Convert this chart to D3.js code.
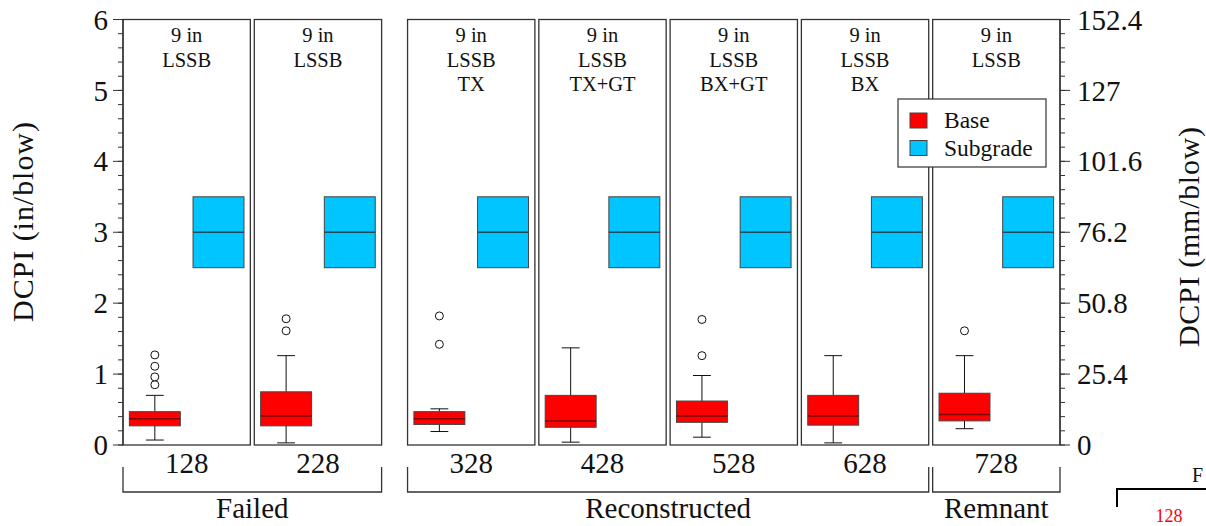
<!DOCTYPE html>
<html>
<head>
<meta charset="utf-8">
<script src="https://cdn.jsdelivr.net/npm/d3@7"></script>
<style>
  body { margin: 0; background: #fff; }
  svg { display: block; font-family: "Liberation Serif", "Times New Roman", Times, serif; }
</style>
</head>
<body>
<svg id="chart" width="1206" height="526"></svg>
<script>
// sections (panels) and their header lines
const sections = ['128', '228', '328', '428', '528', '628', '728'];
const headers = [
    ['9 in', 'LSSB'],
    ['9 in', 'LSSB'],
    ['9 in', 'LSSB', 'TX'],
    ['9 in', 'LSSB', 'TX+GT'],
    ['9 in', 'LSSB', 'BX+GT'],
    ['9 in', 'LSSB', 'BX'],
    ['9 in', 'LSSB']
];
const groupNames = ['Failed', 'Reconstructed', 'Remnant'];
const groupOf = [0, 0, 1, 1, 1, 1, 2];
const layers = ['Base', 'Subgrade'];

// Base layer box stats (in/blow)
const baseLow = [0.07, 0.03, 0.19, 0.04, 0.11, 0.03, 0.23];
const baseQ1 = [0.27, 0.27, 0.29, 0.25, 0.32, 0.28, 0.34];
const baseMed = [0.37, 0.41, 0.37, 0.34, 0.41, 0.41, 0.43];
const baseQ3 = [0.47, 0.75, 0.47, 0.70, 0.62, 0.70, 0.73];
const baseHigh = [0.70, 1.26, 0.51, 1.37, 0.98, 1.26, 1.26];
const baseOutliers = [
    [0.85, 0.96, 1.11, 1.27],
    [1.61, 1.78],
    [1.42, 1.82],
    [],
    [1.26, 1.77],
    [],
    [1.61]
];

// Subgrade layer box stats (in/blow)
const subQ1 = [2.5, 2.5, 2.5, 2.5, 2.5, 2.5, 2.5];
const subMed = [3.0, 3.0, 3.0, 3.0, 3.0, 3.0, 3.0];
const subQ3 = [3.5, 3.5, 3.5, 3.5, 3.5, 3.5, 3.5];

const leftTicks = [0, 1, 2, 3, 4, 5, 6];
const rightTicks = [0, 25.4, 50.8, 76.2, 101.6, 127, 152.4];

const colors = {Base: '#ff0000', Subgrade: '#00c5ff'};
const medianColors = {Base: '#7a0000', Subgrade: '#1b4d5c'};

const svg = d3.select('#chart');
const plotTop = 19.5, plotBottom = 445, plotLeft = 123, plotRight = 1060;
const groupGap = 22;

const y = d3.scaleLinear().domain([0, 6]).range([plotBottom, plotTop]);
const yMm = d3.scaleLinear().domain([0, 152.4]).range([plotBottom, plotTop]);

const xSec = d3.scaleBand()
    .domain(sections)
    .range([plotLeft, plotRight - groupGap])
    .paddingInner(0.03);
const secX = (s, i) => xSec(s) + (i >= 2 ? groupGap : 0);
const bw = xSec.bandwidth();

const xLayer = d3.scaleBand().domain(layers).range([0, bw]).paddingInner(0.2).paddingOuter(0.1);

// panels
const panel = svg.append('g').selectAll('g')
    .data(sections)
    .join('g')
    .attr('transform', (d, i) => `translate(${secX(d, i)},0)`);

panel.append('rect')
    .attr('x', 0).attr('y', plotTop)
    .attr('width', bw).attr('height', plotBottom - plotTop)
    .attr('fill', 'none').attr('stroke', '#333').attr('stroke-width', 1.3);

panel.each(function (d, i) {
    const t = d3.select(this).append('text')
        .attr('text-anchor', 'middle')
        .attr('font-size', 20.5)
        .attr('fill', '#111');
    headers[i].forEach((line, k) => {
        t.append('tspan').attr('x', bw / 2).attr('y', plotTop + 22.5 + k * 24.5).text(line);
    });
});

// box plots
function drawBox(parent, layer, q1, med, q3, lo, hi, outs) {
    const g = parent.append('g').attr('class', 'box-' + layer);
    const x0 = xLayer(layer), w = xLayer.bandwidth(), cx = x0 + w / 2, cap = w * 0.35;
    if (lo != null) {
        g.append('line').attr('x1', cx).attr('x2', cx).attr('y1', y(hi)).attr('y2', y(q3)).attr('stroke', '#111');
        g.append('line').attr('x1', cx).attr('x2', cx).attr('y1', y(q1)).attr('y2', y(lo)).attr('stroke', '#111');
        g.append('line').attr('x1', cx - cap / 2).attr('x2', cx + cap / 2).attr('y1', y(hi)).attr('y2', y(hi)).attr('stroke', '#111');
        g.append('line').attr('x1', cx - cap / 2).attr('x2', cx + cap / 2).attr('y1', y(lo)).attr('y2', y(lo)).attr('stroke', '#111');
    }
    g.append('rect')
        .attr('x', x0).attr('y', y(q3))
        .attr('width', w).attr('height', y(q1) - y(q3))
        .attr('fill', colors[layer]).attr('stroke', '#444').attr('stroke-width', 1);
    g.append('line')
        .attr('x1', x0).attr('x2', x0 + w)
        .attr('y1', y(med)).attr('y2', y(med))
        .attr('stroke', medianColors[layer]).attr('stroke-width', 1.5);
    g.selectAll('circle')
        .data(outs || [])
        .join('circle')
        .attr('cx', cx).attr('cy', v => y(v)).attr('r', 4)
        .attr('fill', '#fff').attr('stroke', '#111').attr('stroke-width', 1);
}

panel.each(function (d, i) {
    const g = d3.select(this);
    drawBox(g, 'Base', baseQ1[i], baseMed[i], baseQ3[i], baseLow[i], baseHigh[i], baseOutliers[i]);
    drawBox(g, 'Subgrade', subQ1[i], subMed[i], subQ3[i], null, null, []);
});

// left axis
const minorLeft = d3.range(0, 6.001, 0.2);
const leftAxis = svg.append('g').attr('transform', `translate(${plotLeft},0)`);
leftAxis.append('line').attr('x1', 0).attr('x2', 0).attr('y1', plotTop).attr('y2', plotBottom).attr('stroke', '#333').attr('stroke-width', 1.3);
leftAxis.selectAll('line.minor').data(minorLeft).join('line').attr('class', 'minor')
    .attr('x1', -5).attr('x2', 0).attr('y1', d => y(d)).attr('y2', d => y(d)).attr('stroke', '#333');
leftAxis.selectAll('line.major').data(leftTicks).join('line').attr('class', 'major')
    .attr('x1', -10).attr('x2', 0).attr('y1', d => y(d)).attr('y2', d => y(d)).attr('stroke', '#333');
leftAxis.selectAll('text').data(leftTicks).join('text')
    .attr('x', -15).attr('y', d => y(d)).attr('dy', '0.35em')
    .attr('text-anchor', 'end').attr('font-size', 29).attr('fill', '#111')
    .text(d => d);

// right axis
const minorRight = d3.range(0, 30.001).map(k => k * 5.08);
const rightAxis = svg.append('g').attr('transform', `translate(${plotRight},0)`);
rightAxis.append('line').attr('x1', 0).attr('x2', 0).attr('y1', plotTop).attr('y2', plotBottom).attr('stroke', '#333').attr('stroke-width', 1.3);
rightAxis.selectAll('line.minor').data(minorRight).join('line').attr('class', 'minor')
    .attr('x1', 0).attr('x2', 5).attr('y1', d => yMm(d)).attr('y2', d => yMm(d)).attr('stroke', '#333');
rightAxis.selectAll('line.major').data(rightTicks).join('line').attr('class', 'major')
    .attr('x1', 0).attr('x2', 10).attr('y1', d => yMm(d)).attr('y2', d => yMm(d)).attr('stroke', '#333');
rightAxis.selectAll('text').data(rightTicks).join('text')
    .attr('x', 17).attr('y', d => yMm(d)).attr('dy', '0.35em')
    .attr('font-size', 29).attr('fill', '#111')
    .text(d => +d.toFixed(1));

// axis titles
svg.append('text')
    .attr('transform', 'translate(33,222) rotate(-90)')
    .attr('text-anchor', 'middle').attr('font-size', 30).attr('fill', '#111')
    .attr('textLength', 200).attr('lengthAdjust', 'spacing')
    .text('DCPI (in/blow)');
svg.append('text')
    .attr('transform', 'translate(1199,237) rotate(-90)')
    .attr('text-anchor', 'middle').attr('font-size', 30).attr('fill', '#111')
    .attr('textLength', 220).attr('lengthAdjust', 'spacing')
    .text('DCPI (mm/blow)');

// section labels under panels
svg.append('g').selectAll('text')
    .data(sections)
    .join('text')
    .attr('x', (d, i) => secX(d, i) + bw / 2)
    .attr('y', 473)
    .attr('text-anchor', 'middle').attr('font-size', 29).attr('fill', '#111')
    .text(d => d);

// group brackets
const groupSpans = groupNames.map((name, gi) => {
    const idx = sections.map((s, i) => i).filter(i => groupOf[i] === gi);
    const x0 = secX(sections[idx[0]], idx[0]);
    const last = idx[idx.length - 1];
    const x1 = secX(sections[last], last) + bw;
    return {name, x0, x1};
});
const brackets = svg.append('g');
brackets.selectAll('path')
    .data(groupSpans)
    .join('path')
    .attr('d', d => `M${d.x0},467V492H${d.x1}V467`)
    .attr('fill', 'none').attr('stroke', '#333').attr('stroke-width', 1.3);
brackets.selectAll('text')
    .data(groupSpans)
    .join('text')
    .attr('x', d => (d.x0 + d.x1) / 2)
    .attr('y', 518)
    .attr('text-anchor', 'middle').attr('font-size', 29).attr('fill', '#111')
    .text(d => d.name);

// legend
const legend = svg.append('g').attr('transform', 'translate(898,99)');
legend.append('rect').attr('width', 148).attr('height', 68).attr('fill', '#fff').attr('stroke', '#333').attr('stroke-width', 1.2);
legend.selectAll('rect.sw').data(layers).join('rect').attr('class', 'sw')
    .attr('x', 12).attr('y', (d, i) => 14 + i * 27.5)
    .attr('width', 17).attr('height', 15)
    .attr('fill', d => colors[d]).attr('stroke', '#444');
legend.selectAll('text').data(layers).join('text')
    .attr('x', 46).attr('y', (d, i) => 29 + i * 28)
    .attr('font-size', 23.5).attr('fill', '#111')
    .text(d => d);

// clipped piece of the neighbouring figure
svg.append('path').attr('d', 'M1117,507V489H1210').attr('fill', 'none').attr('stroke', '#000').attr('stroke-width', 2);
svg.append('text').attr('x', 1192).attr('y', 482).attr('font-size', 20).attr('fill', '#111').text('F');
svg.append('text').attr('x', 1169).attr('y', 522).attr('text-anchor', 'middle').attr('font-size', 18).attr('fill', '#ff0000').text('128');
</script>
</body>
</html>
